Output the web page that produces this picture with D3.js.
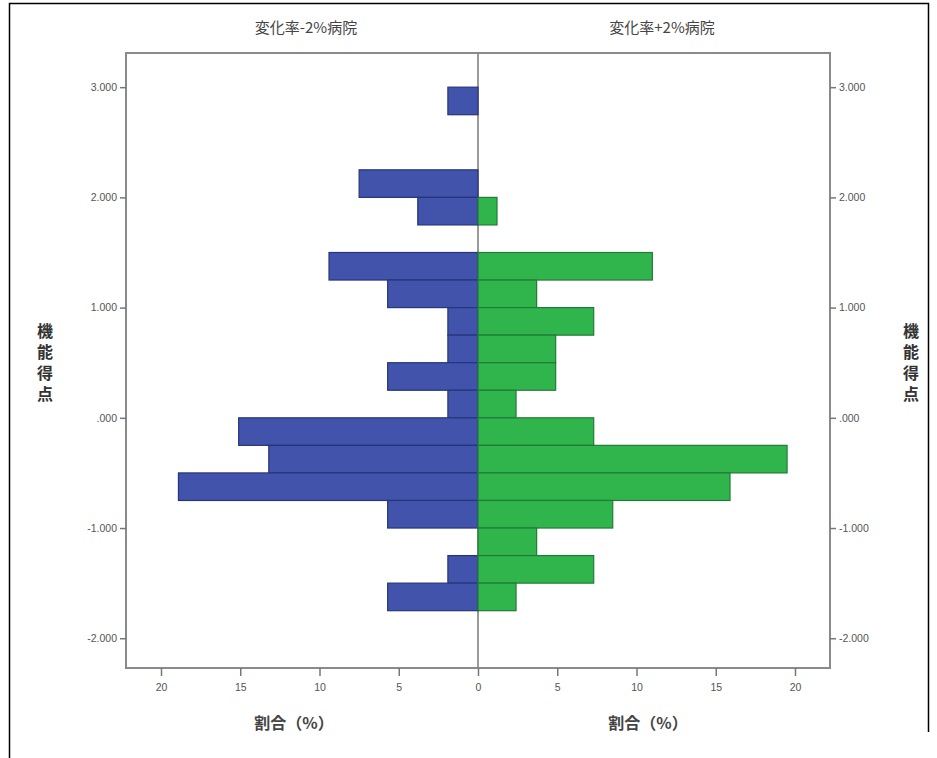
<!DOCTYPE html>
<html><head><meta charset="utf-8">
<script src="https://cdn.jsdelivr.net/npm/d3@7/dist/d3.min.js"></script>
<style>
html,body{margin:0;padding:0;background:#fff;}
svg{display:block;font-family:"Noto Sans CJK JP","Noto Sans",sans-serif;}
</style></head><body>
<svg id="c" width="937" height="758"></svg>
<script>
// bins of the score (lower edge, upper edge)
const binLow  = [2.75, 2.5, 2.25, 2.0, 1.75, 1.5, 1.25, 1.0, 0.75, 0.5, 0.25, 0.0, -0.25, -0.5, -0.75, -1.0, -1.25, -1.5, -1.75];
const binWidth = 0.25;
// percentages
const leftValues  = [1.9, 0, 0, 7.5, 3.8, 0, 9.4, 5.7, 1.9, 1.9, 5.7, 1.9, 15.1, 13.2, 18.9, 5.7, 0, 1.9, 5.7];
const rightValues = [0, 0, 0, 0, 1.2, 0, 11.0, 3.7, 7.3, 4.9, 4.9, 2.4, 7.3, 19.5, 15.9, 8.5, 3.7, 7.3, 2.4];
const leftTitle = "変化率-2%病院";
const rightTitle = "変化率+2%病院";
const xTitle = "割合（%）";
const yTitle = "機能得点";
const yTicks = [3, 2, 1, 0, -1, -2];
const yTickLabels = ["3.000", "2.000", "1.000", ".000", "-1.000", "-2.000"];
const xTicks = [0, 5, 10, 15, 20];

const svg = d3.select("#c");
const L = 126, R = 830, T = 53, B = 668, C = 478;
const xMax = (C - L) / 15.85;

// outer border
svg.append("path").attr("d", `M9.5,760 V3.5 H928.5 V732`).attr("fill","none").attr("stroke","#000").attr("stroke-width",1.5);

const y = d3.scaleLinear().domain([-2.27, 3.31]).range([B, T]);
const xl = d3.scaleLinear().domain([0, xMax]).range([C, L]);
const xr = d3.scaleLinear().domain([0, xMax]).range([C, R]);

const dataL = binLow.map((b,i)=>({b, v:leftValues[i]})).filter(d=>d.v>0);
const dataR = binLow.map((b,i)=>({b, v:rightValues[i]})).filter(d=>d.v>0);

// center line
svg.append("line").attr("x1",C).attr("x2",C).attr("y1",T).attr("y2",B).attr("stroke","#9a9a9a").attr("stroke-width",2);

svg.append("g").selectAll("rect").data(dataL).join("rect")
  .attr("x", d=>xl(d.v)).attr("width", d=>xl(0)-xl(d.v))
  .attr("y", d=>y(d.b+binWidth)).attr("height", d=>y(d.b)-y(d.b+binWidth))
  .attr("fill","#4153AA").attr("stroke","#27357a").attr("stroke-width",1.2);

svg.append("g").selectAll("rect").data(dataR).join("rect")
  .attr("x", d=>xr(0)).attr("width", d=>xr(d.v)-xr(0))
  .attr("y", d=>y(d.b+binWidth)).attr("height", d=>y(d.b)-y(d.b+binWidth))
  .attr("fill","#2FB54B").attr("stroke","#237a38").attr("stroke-width",1.2);

// frame
svg.append("rect").attr("x",L).attr("y",T).attr("width",R-L).attr("height",B-T)
  .attr("fill","none").attr("stroke","#8a8a8a").attr("stroke-width",2);

// axes
const axStyle = g => {
  g.select(".domain").remove();
  g.selectAll(".tick line").attr("stroke","#777").attr("stroke-width",1.5);
  g.selectAll(".tick text").attr("fill","#555").attr("font-size",10.5).attr("font-family","Arial,'Liberation Sans',sans-serif");
};
const yLab = d => yTickLabels[yTicks.indexOf(d)];
svg.append("g").attr("transform",`translate(${L},0)`)
  .call(d3.axisLeft(y).tickValues(yTicks).tickFormat(yLab).tickSize(6).tickPadding(3)).call(axStyle);
svg.append("g").attr("transform",`translate(${R},0)`)
  .call(d3.axisRight(y).tickValues(yTicks).tickFormat(yLab).tickSize(6).tickPadding(3)).call(axStyle);
svg.append("g").attr("transform",`translate(0,${B})`)
  .call(d3.axisBottom(xl).tickValues(xTicks).tickFormat(d3.format("d")).tickSize(8).tickPadding(8)).call(axStyle);
svg.append("g").attr("transform",`translate(0,${B})`)
  .call(d3.axisBottom(xr).tickValues(xTicks.filter(d=>d>0)).tickFormat(d3.format("d")).tickSize(8).tickPadding(8)).call(axStyle);

// titles
svg.append("text").attr("x",(L+C)/2+4).attr("y",33).attr("text-anchor","middle").attr("font-size",15).attr("fill","#444").text(leftTitle);
svg.append("text").attr("x",(C+R)/2+8).attr("y",33).attr("text-anchor","middle").attr("font-size",15).attr("fill","#444").text(rightTitle);
svg.append("text").attr("x",(L+C)/2-8).attr("y",729).attr("text-anchor","middle").attr("font-size",16).attr("font-weight","bold").attr("fill","#444").text(xTitle);
svg.append("text").attr("x",(C+R)/2-6).attr("y",729).attr("text-anchor","middle").attr("font-size",16).attr("font-weight","bold").attr("fill","#444").text(xTitle);

// vertical y titles (upright characters)
function vTitle(x){
  svg.append("text").attr("x",x).attr("y",365)
    .attr("text-anchor","middle").attr("dominant-baseline","central")
    .style("writing-mode","vertical-rl").style("text-orientation","upright")
    .attr("font-size",16).attr("font-weight","bold").attr("fill","#333")
    .attr("letter-spacing",5)
    .text(yTitle);
}
vTitle(45);
vTitle(911);
</script>
</body></html>
